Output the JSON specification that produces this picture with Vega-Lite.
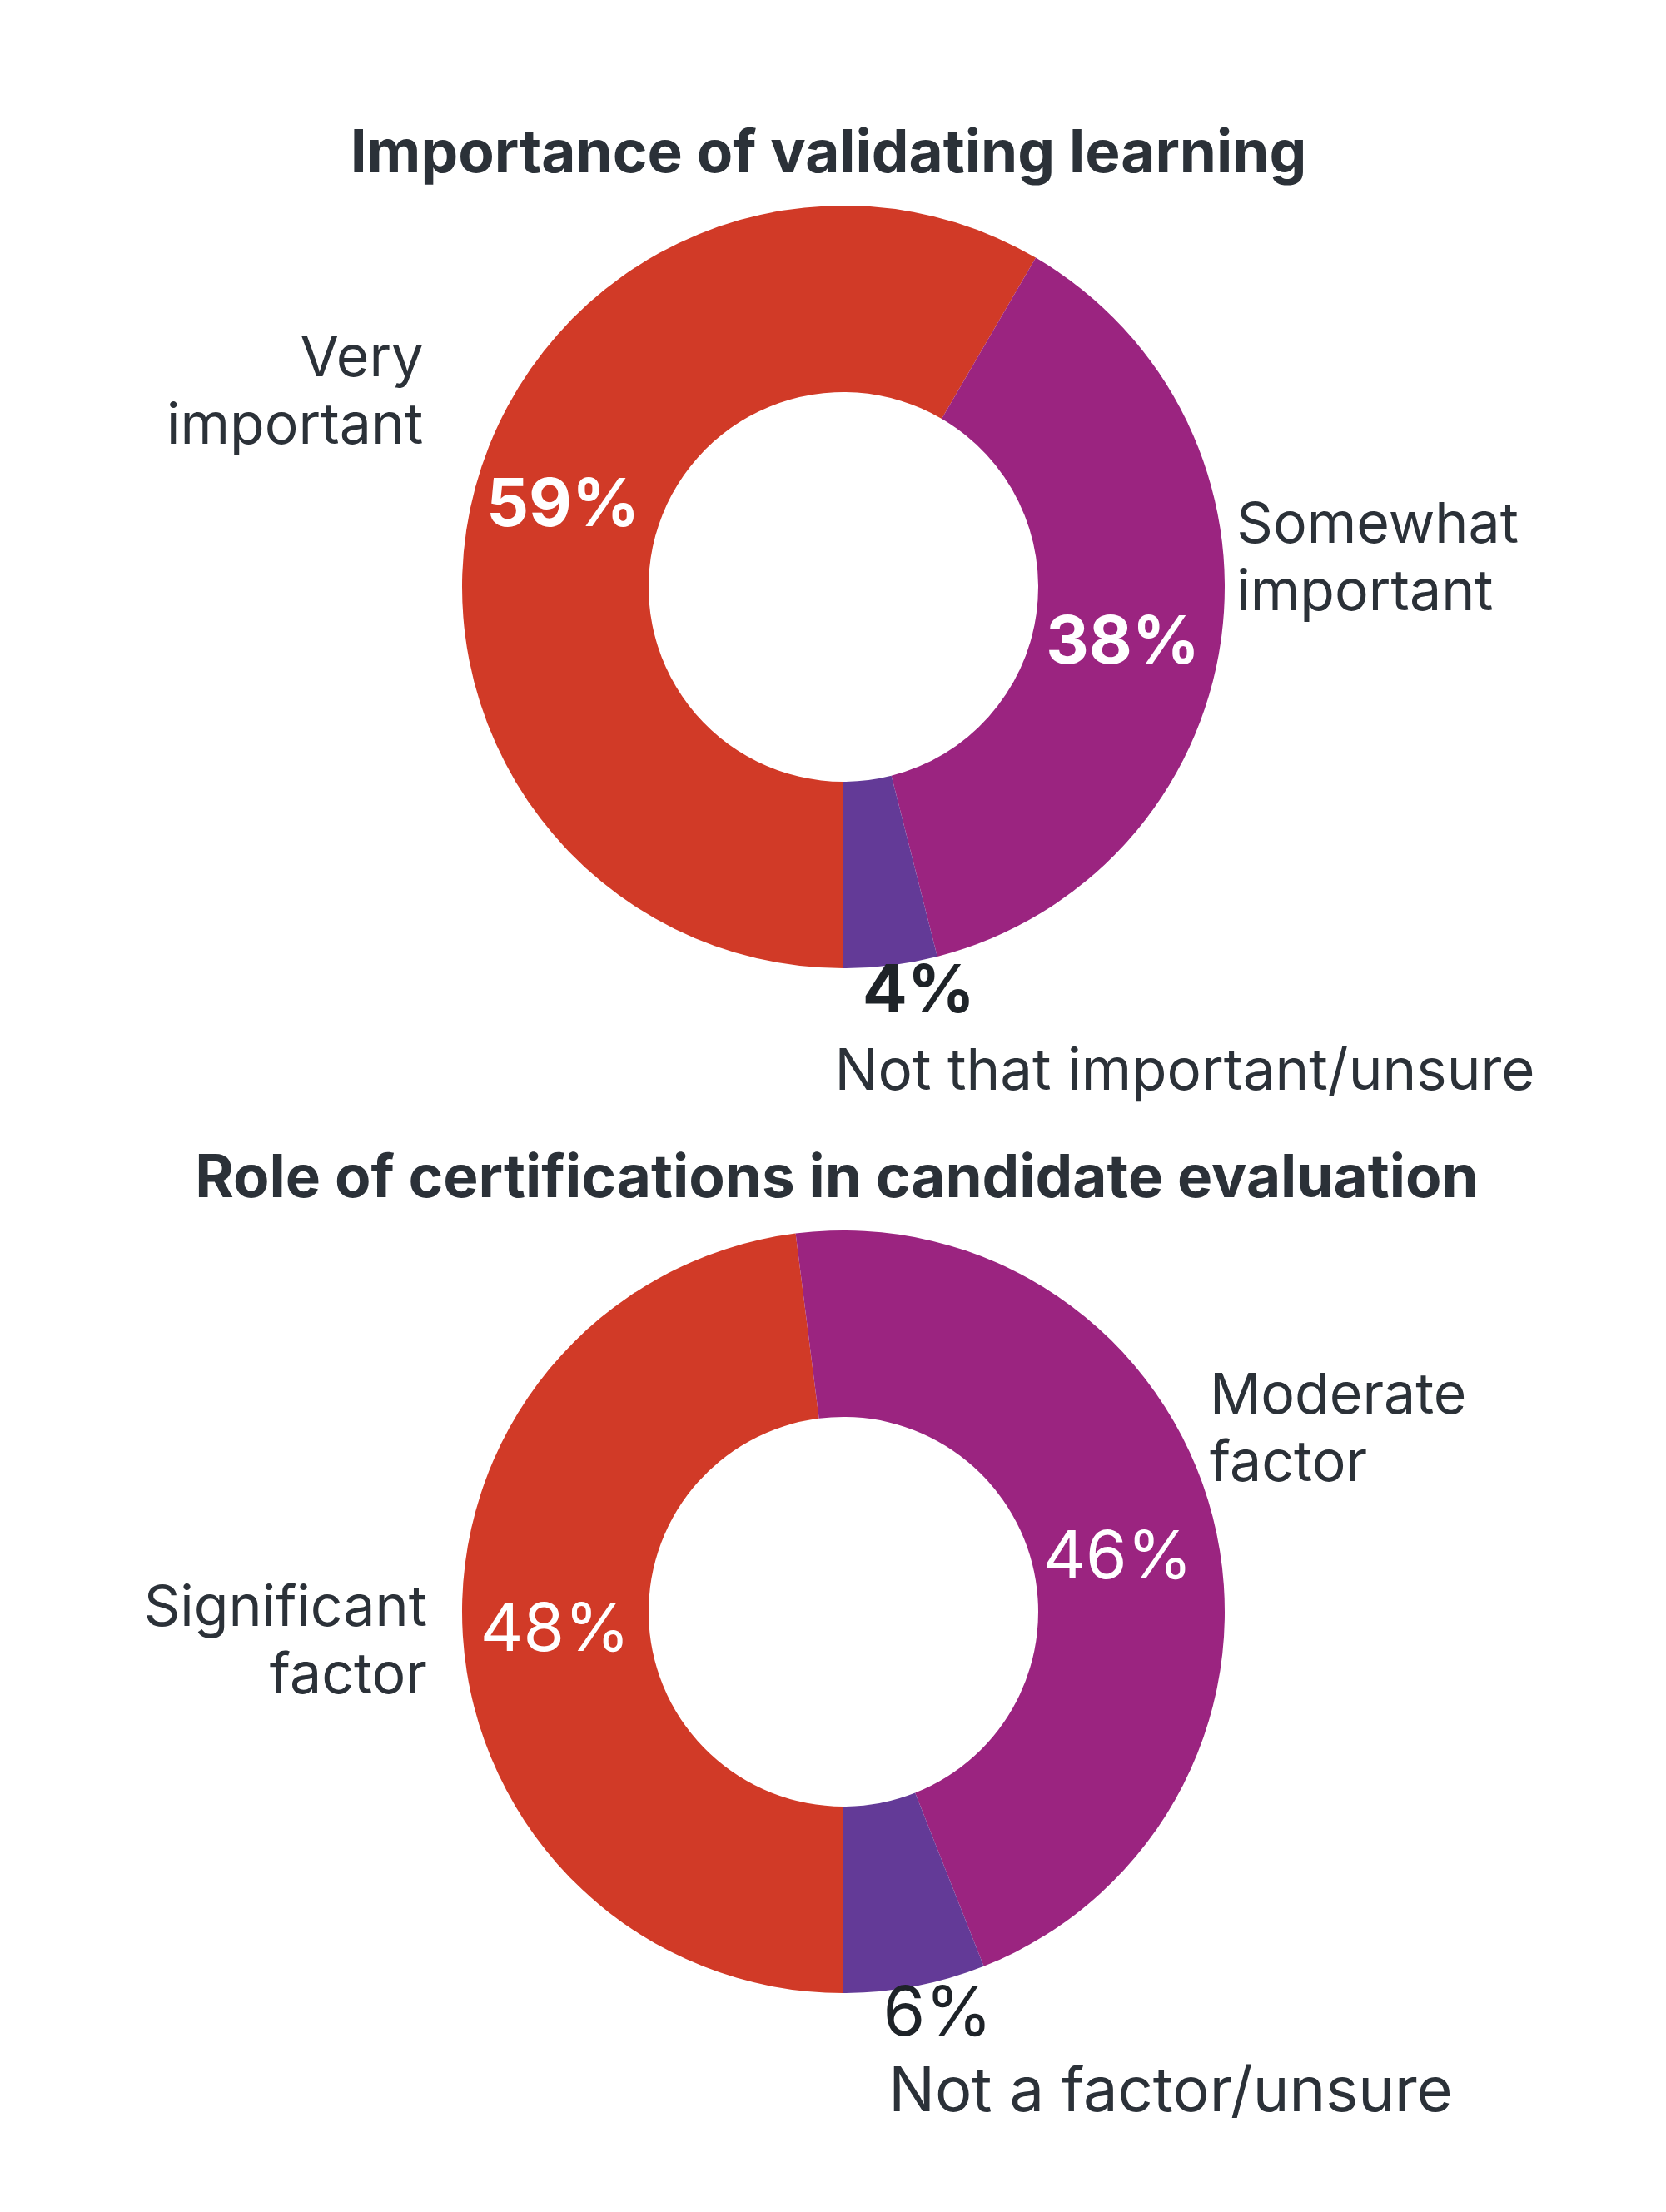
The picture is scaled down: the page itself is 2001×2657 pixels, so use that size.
{
  "$schema": "https://vega.github.io/schema/vega-lite/v6.json",
  "background": "white",
  "padding": {"left": 63, "top": 150, "right": 0, "bottom": 60},
  "bounds": "flush",
  "spacing": 291,
  "config": {
    "view": {"stroke": null},
    "font": "Inter",
    "title": {"font": "Inter", "fontSize": 71, "fontWeight": "bold", "color": "#2B3138", "anchor": "middle", "baseline": "alphabetic", "offset": 13},
    "text": {"font": "Inter"},
    "arc": {"stroke": null}
  },
  "vconcat": [
    {
      "width": 1900,
      "height": 940,
      "title": {"text": "Importance of validating learning", "dx": -18},
      "data": {
        "values": [
          {"category": "Very important", "label": "Very\nimportant", "share": 0.59},
          {"category": "Somewhat important", "label": "Somewhat\nimportant", "share": 0.38},
          {"category": "Not that important/unsure", "label": "Not that important/unsure", "share": 0.04}
        ]
      },
      "encoding": {
        "theta": {"field": "share", "type": "quantitative", "stack": true, "scale": {"range": [3.141592653589793, 9.42477796076938], "nice": false}},
        "order": {"field": "share", "type": "quantitative", "sort": "descending"},
        "detail": {"field": "category", "type": "nominal"}
      },
      "layer": [
        {
          "mark": {"type": "arc", "outerRadius": 458, "innerRadius": 234},
          "encoding": {
            "color": {
              "field": "category",
              "type": "nominal",
              "legend": null,
              "scale": {
                "domain": ["Very important", "Somewhat important", "Not that important/unsure"],
                "range": ["#D13A27", "#9B2480", "#633A97"]
              }
            }
          }
        },
        {
          "mark": {"type": "text", "radius": 350, "fontSize": 80, "fontWeight": "bold", "color": "white", "align": "center", "baseline": "middle", "dx": 1, "dy": -6},
          "encoding": {"text": {"condition": {"test": "datum.category === 'Very important'", "field": "share", "type": "quantitative", "format": ".0%"}, "value": ""}}
        },
        {
          "mark": {"type": "text", "radius": 343, "fontSize": 80, "fontWeight": "bold", "color": "white", "align": "center", "baseline": "middle", "dx": -4, "dy": 20},
          "encoding": {"text": {"condition": {"test": "datum.category === 'Somewhat important'", "field": "share", "type": "quantitative", "format": ".0%"}, "value": ""}}
        },
        {
          "mark": {"type": "text", "radius": 495, "fontSize": 80, "fontWeight": "bold", "color": "#1E2328", "align": "center", "baseline": "middle", "dx": 29, "dy": -4},
          "encoding": {"text": {"condition": {"test": "datum.category === 'Not that important/unsure'", "field": "share", "type": "quantitative", "format": ".0%"}, "value": ""}}
        },
        {
          "mark": {"type": "text", "radius": 609, "fontSize": 69, "color": "#2B3138", "align": "left", "baseline": "alphabetic", "dx": -86, "dy": 0},
          "encoding": {"text": {"condition": {"test": "datum.category === 'Not that important/unsure'", "field": "label", "type": "nominal"}, "value": ""}}
        },
        {
          "mark": {"type": "text", "radius": 500, "fontSize": 68, "color": "#2B3138", "align": "right", "baseline": "alphabetic", "lineBreak": "\n", "lineHeight": 81, "dx": -22, "dy": -122},
          "encoding": {"text": {"condition": {"test": "datum.category === 'Very important'", "field": "label", "type": "nominal"}, "value": ""}}
        },
        {
          "mark": {"type": "text", "radius": 480, "fontSize": 68, "color": "#2B3138", "align": "left", "baseline": "alphabetic", "lineBreak": "\n", "lineHeight": 81, "dx": -3, "dy": -120},
          "encoding": {"text": {"condition": {"test": "datum.category === 'Somewhat important'", "field": "label", "type": "nominal"}, "value": ""}}
        }
      ]
    },
    {
      "width": 1900,
      "height": 940,
      "title": {"text": "Role of certifications in candidate evaluation", "dx": -8},
      "data": {
        "values": [
          {"category": "Significant factor", "label": "Significant\nfactor", "share": 0.48},
          {"category": "Moderate factor", "label": "Moderate\nfactor", "share": 0.46},
          {"category": "Not a factor/unsure", "label": "Not a factor/unsure", "share": 0.06}
        ]
      },
      "encoding": {
        "theta": {"field": "share", "type": "quantitative", "stack": true, "scale": {"range": [3.141592653589793, 9.42477796076938], "nice": false}},
        "order": {"field": "share", "type": "quantitative", "sort": "descending"},
        "detail": {"field": "category", "type": "nominal"}
      },
      "layer": [
        {
          "mark": {"type": "arc", "outerRadius": 458, "innerRadius": 234},
          "encoding": {
            "color": {
              "field": "category",
              "type": "nominal",
              "legend": null,
              "scale": {
                "domain": ["Significant factor", "Moderate factor", "Not a factor/unsure"],
                "range": ["#D13A27", "#9B2480", "#633A97"]
              }
            }
          }
        },
        {
          "mark": {"type": "text", "radius": 347, "fontSize": 80, "color": "white", "align": "center", "baseline": "middle", "dx": 0, "dy": 1},
          "encoding": {"text": {"condition": {"test": "datum.category === 'Significant factor'", "field": "share", "type": "quantitative", "format": ".0%"}, "value": ""}}
        },
        {
          "mark": {"type": "text", "radius": 340, "fontSize": 80, "color": "white", "align": "center", "baseline": "middle", "dx": 0, "dy": 21},
          "encoding": {"text": {"condition": {"test": "datum.category === 'Moderate factor'", "field": "share", "type": "quantitative", "format": ".0%"}, "value": ""}}
        },
        {
          "mark": {"type": "text", "radius": 497, "fontSize": 82, "color": "#1E2328", "align": "center", "baseline": "middle", "dx": 20, "dy": -4},
          "encoding": {"text": {"condition": {"test": "datum.category === 'Not a factor/unsure'", "field": "share", "type": "quantitative", "format": ".0%"}, "value": ""}}
        },
        {
          "mark": {"type": "text", "radius": 615, "fontSize": 74, "color": "#2B3138", "align": "left", "baseline": "alphabetic", "dx": -61, "dy": -4},
          "encoding": {"text": {"condition": {"test": "datum.category === 'Not a factor/unsure'", "field": "label", "type": "nominal"}, "value": ""}}
        },
        {
          "mark": {"type": "text", "radius": 480, "fontSize": 68, "color": "#2B3138", "align": "left", "baseline": "alphabetic", "lineBreak": "\n", "lineHeight": 81, "dx": -25, "dy": -119},
          "encoding": {"text": {"condition": {"test": "datum.category === 'Moderate factor'", "field": "label", "type": "nominal"}, "value": ""}}
        },
        {
          "mark": {"type": "text", "radius": 480, "fontSize": 68, "color": "#2B3138", "align": "right", "baseline": "alphabetic", "lineBreak": "\n", "lineHeight": 81, "dx": -21, "dy": -13},
          "encoding": {"text": {"condition": {"test": "datum.category === 'Significant factor'", "field": "label", "type": "nominal"}, "value": ""}}
        }
      ]
    }
  ]
}
